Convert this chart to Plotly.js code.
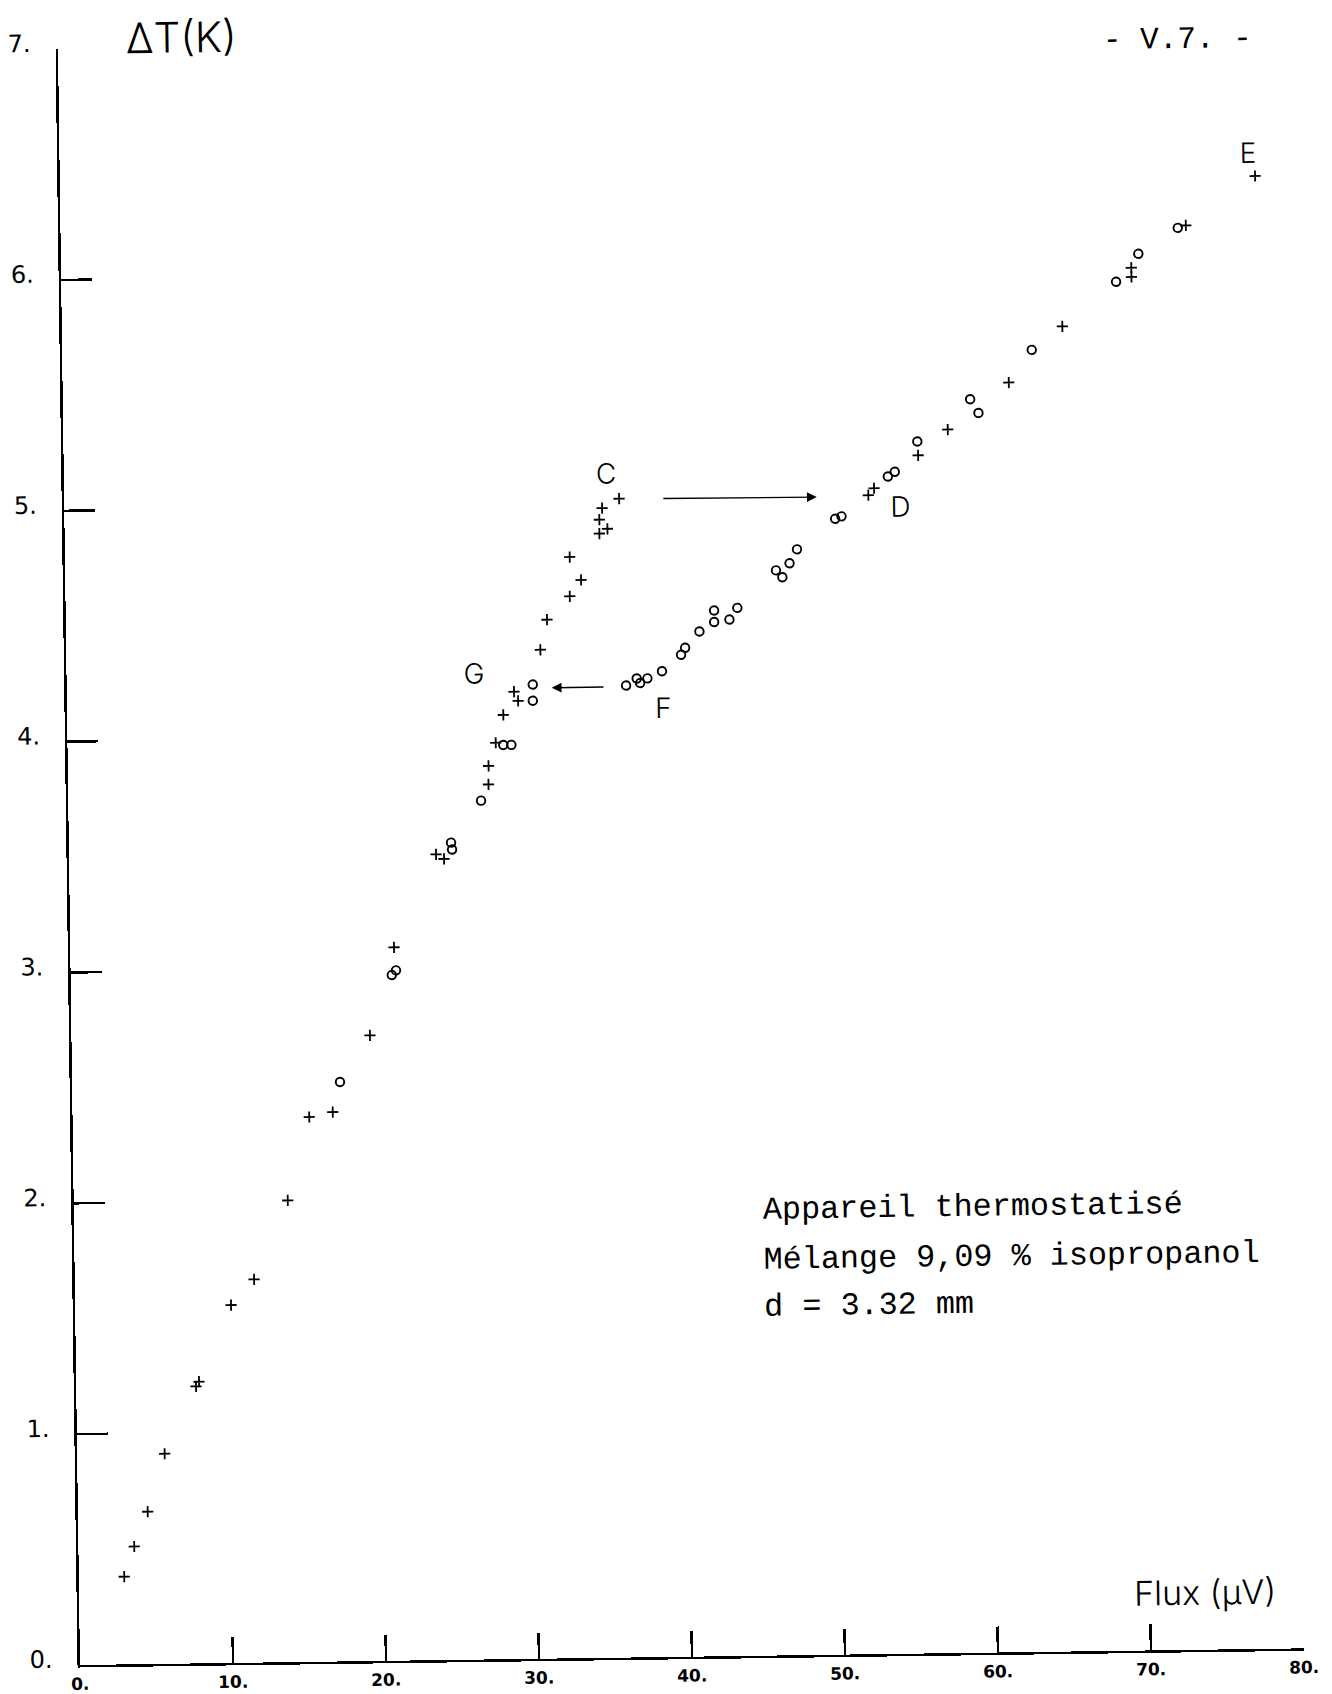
<!DOCTYPE html>
<html>
<head>
<meta charset="utf-8">
<script src="https://cdn.plot.ly/plotly-3.0.1.min.js"></script>
<style>
  html, body { margin: 0; padding: 0; background: #fff; }
  #chart {
    position: absolute; left: 0; top: 0;
    width: 1332px; height: 1694px;
    /* the plotted sheet sits slightly askew on the page */
    transform: rotate(-0.78deg);
    transform-origin: 80px 1665px;
  }
</style>
</head>
<body>
<div id="chart"></div>
<script>
// Flux (µV) and temperature difference ΔT (K), measurement series marked "+"
const crossX = [2.97, 3.65, 4.56, 5.72, 7.83, 8.03, 10.19, 11.72, 13.99, 15.47, 17.01, 19.51,
                21.16, 23.99, 24.51, 27.48, 27.50, 27.99, 28.51, 29.23, 29.49, 30.99, 31.45,
                32.96, 33.71, 32.99, 34.95, 35.48, 34.96, 35.15, 36.27,
                52.56, 52.94, 55.85, 57.81, 61.84, 65.39, 69.95, 69.95, 73.55, 78.12];
const crossY = [0.38, 0.51, 0.66, 0.91, 1.20, 1.22, 1.55, 1.66, 2.00, 2.36, 2.38, 2.71,
                3.09, 3.49, 3.47, 3.79, 3.87, 3.97, 4.09, 4.19, 4.15, 4.37, 4.50,
                4.60, 4.67, 4.77, 4.87, 4.89, 4.93, 4.98, 5.02,
                5.02, 5.05, 5.19, 5.30, 5.50, 5.74, 5.95, 5.99, 6.17, 6.38];

// Measurement series marked "o"
const circX = [17.51, 20.99, 21.27, 24.98, 25.04, 26.98, 28.48, 29.01, 30.45, 30.46,
               36.56, 37.26, 37.48, 37.96, 38.92, 40.18, 40.45, 41.40, 42.37, 42.38,
               43.37, 43.90, 46.46, 46.87, 47.35, 47.85, 50.37, 50.79, 53.85, 54.31,
               55.81, 59.30, 59.83, 63.37, 68.94, 70.42, 73.02];
const circY = [2.51, 2.97, 2.99, 3.54, 3.51, 3.72, 3.96, 3.96, 4.15, 4.22,
               4.21, 4.24, 4.22, 4.24, 4.27, 4.34, 4.37, 4.44, 4.48, 4.53,
               4.49, 4.54, 4.70, 4.67, 4.73, 4.79, 4.92, 4.93, 5.10, 5.12,
               5.25, 5.43, 5.37, 5.64, 5.93, 6.05, 6.16];

const xTickVals = [0, 10, 20, 30, 40, 50, 60, 70, 80];
const xTickText = ['0.', '10.', '20.', '30.', '40.', '50.', '60.', '70.', '80.'];
const yTickVals = [0, 1, 2, 3, 4, 5, 6, 7];
const yTickText = ['0.', '1.', '2.', '3.', '4.', '5.', '6.', '7.'];

const noteLines = ['Appareil thermostatisé', 'Mélange 9,09 % isopropanol', 'd = 3.32 mm'];
const pointLabels = ['C', 'D', 'E', 'F', 'G'];

const INK = '#000';
const handFont = (size) => ({ family: 'Inter, Lato, "DejaVu Sans", sans-serif', size: size, color: INK, weight: 300 });
const monoFamily = '"Liberation Mono", "DejaVu Sans Mono", monospace';
const monoFont = { family: monoFamily, size: 31.8, color: INK };

const traces = [
  {
    type: 'scatter', mode: 'markers', x: crossX, y: crossY, name: '+',
    marker: { symbol: 'cross-thin-open', size: 8, color: INK, line: { color: INK, width: 1.8 } },
    hoverinfo: 'skip', cliponaxis: false
  },
  {
    type: 'scatter', mode: 'markers', x: circX, y: circY, name: 'o',
    marker: { symbol: 'circle-open', size: 8.5, color: INK, line: { color: INK, width: 1.9 } },
    hoverinfo: 'skip', cliponaxis: false
  }
];

const labelPos = {
  C: [35.42, 5.13], D: [54.63, 4.97], E: [77.71, 6.48], F: [38.97, 4.11], G: [26.61, 4.27]
};

const annotations = [];
// axis titles and page number
annotations.push({ text: 'ΔT(K)', x: 0.1006, y: 1.0066, xref: 'paper', yref: 'paper', showarrow: false,
                   font: handFont(42), xanchor: 'center', yanchor: 'middle' });
annotations.push({ text: 'Flux (μV)', x: 73.6, y: 0.25, xref: 'x', yref: 'y', showarrow: false,
                   font: handFont(34), xanchor: 'center', yanchor: 'middle' });
annotations.push({ text: '- V.7. -', x: 73.2, y: 6.975, xref: 'x', yref: 'y', showarrow: false,
                   font: { family: monoFamily, size: 31, color: INK }, xanchor: 'center', yanchor: 'middle' });
// experimental conditions
const noteY = [1.928, 1.713, 1.508];
noteLines.forEach((line, i) => {
  annotations.push({ text: line, x: 44.9, y: noteY[i], xref: 'x', yref: 'y', showarrow: false,
                     font: monoFont, xanchor: 'left', yanchor: 'middle' });
});
// branch letters
pointLabels.forEach((p) => {
  annotations.push({ text: p, x: labelPos[p][0], y: labelPos[p][1], xref: 'x', yref: 'y',
                     showarrow: false, font: handFont(28), xanchor: 'center', yanchor: 'middle' });
});
// jumps C -> D and F -> G
annotations.push({ text: '', x: 49.19, y: 5.015, ax: 39.06, ay: 5.018, xref: 'x', yref: 'y',
                   axref: 'x', ayref: 'y', showarrow: true, arrowhead: 2, arrowsize: 1.4,
                   arrowwidth: 1.4, arrowcolor: INK, standoff: 0, startstandoff: 0 });
annotations.push({ text: '', x: 31.70, y: 4.205, ax: 35.18, ay: 4.205, xref: 'x', yref: 'y',
                   axref: 'x', ayref: 'y', showarrow: true, arrowhead: 2, arrowsize: 1.4,
                   arrowwidth: 1.4, arrowcolor: INK, standoff: 0, startstandoff: 0 });

const layout = {
  width: 1332, height: 1694,
  margin: { l: 80, r: 28, t: 49, b: 29, pad: 0 },
  paper_bgcolor: '#fff', plot_bgcolor: '#fff',
  showlegend: false,
  xaxis: {
    range: [0, 80], tickmode: 'array', tickvals: xTickVals, ticktext: xTickText,
    ticks: 'inside', ticklen: 26, tickwidth: 2.5, tickcolor: INK,
    showline: true, linewidth: 2.5, linecolor: INK, mirror: false,
    showgrid: false, zeroline: false, fixedrange: true,
    tickfont: { family: '"DejaVu Sans", sans-serif', size: 17, weight: 'bold', color: INK },
    ticklabelstandoff: 2
  },
  yaxis: {
    range: [0, 7], tickmode: 'array', tickvals: yTickVals, ticktext: yTickText,
    ticks: 'inside', ticklen: 31, tickwidth: 2.5, tickcolor: INK,
    showline: true, linewidth: 2.5, linecolor: INK, mirror: false,
    showgrid: false, zeroline: false, fixedrange: true,
    tickfont: { family: '"DejaVu Sans", sans-serif', size: 24, color: INK },
    ticklabelstandoff: 20, ticklabelshift: -6
  },
  annotations: annotations
};

Plotly.newPlot('chart', traces, layout, { displayModeBar: false, staticPlot: true });
</script>
</body>
</html>
